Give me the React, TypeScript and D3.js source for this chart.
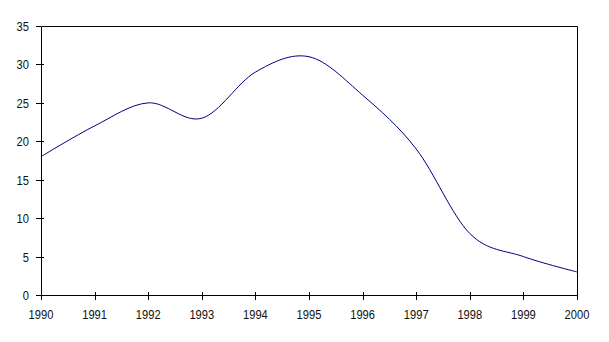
import React from "react";
import * as d3 from "d3";

const years = [1990, 1991, 1992, 1993, 1994, 1995, 1996, 1997, 1998, 1999, 2000];
const values = [18, 22, 25, 23, 29, 31, 26, 19, 8, 5, 3];
const yTicks = [0, 5, 10, 15, 20, 25, 30, 35];

const W = 609;
const H = 342;

const App = () => {
  const x = d3.scaleLinear().domain([1990, 2000]).range([41, 577]);
  const y = d3.scaleLinear().domain([0, 35]).range([295, 26]);

  // Excel-style smoothed line
  const line = d3
    .line<number>()
    .x((d, i) => x(years[i]))
    .y((d) => y(d))
    .curve(d3.curveCardinal.tension(0));

  const font = "Arial, 'Liberation Sans', sans-serif";
  // digits in the original are a little narrow for their height
  const digitW = 6.2;

  return (
    <svg
      width={W}
      height={H}
      style={{ position: "absolute", left: 0, top: 0, background: "#fff" }}
    >
      {/* plot frame */}
      <path
        d={`M${x(1990) + 0.5},${y(0) + 0.5}V${y(35) + 0.5}H${x(2000) + 0.5}V${y(0) + 0.5}Z`}
        fill="none"
        stroke="#000"
        strokeWidth={1}
      />
      {/* y ticks */}
      {yTicks.map((t) => (
        <g key={t}>
          <line
            x1={36}
            x2={t === 35 ? 41 : 44}
            y1={Math.round(y(t)) + 0.5}
            y2={Math.round(y(t)) + 0.5}
            stroke="#000"
          />
          <text
            x={29}
            y={y(t) + 5}
            textAnchor="end"
            fontFamily={font}
            fontSize={12}
            fill="#111"
            textLength={String(t).length * digitW}
            lengthAdjust="spacingAndGlyphs"
          >
            {t}
          </text>
        </g>
      ))}
      {/* x ticks */}
      {years.map((yr) => (
        <g key={yr}>
          <line
            x1={Math.round(x(yr)) + 0.5}
            x2={Math.round(x(yr)) + 0.5}
            y1={292}
            y2={300}
            stroke="#000"
          />
          <text
            x={x(yr)}
            y={318.5}
            textAnchor="middle"
            fontFamily={font}
            fontSize={12}
            fill="#111"
            textLength={4 * digitW}
            lengthAdjust="spacingAndGlyphs"
          >
            {yr}
          </text>
        </g>
      ))}
      <path d={line(values) || ""} fill="none" stroke="#000080" strokeWidth={1} />
    </svg>
  );
};

export default App;
